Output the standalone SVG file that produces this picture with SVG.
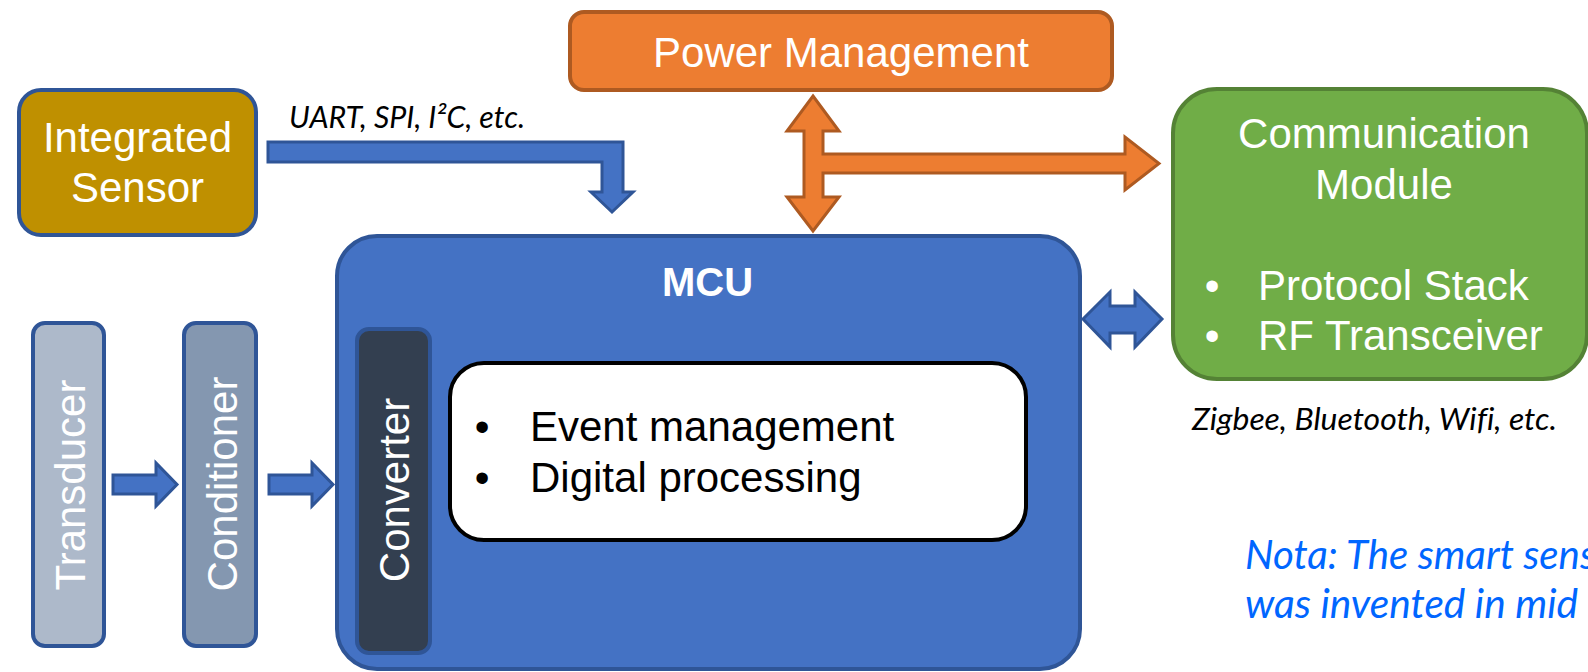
<svg xmlns="http://www.w3.org/2000/svg" width="1588" height="672" viewBox="0 0 1588 672">
<style>
.lbl{font-family:"Liberation Sans",Arial,sans-serif;font-size:42px;fill:#ffffff}
.dark{fill:#000000}
.box{stroke-width:4}
.blueArrow{fill:#4472C4;stroke:#2F5597;stroke-width:3;stroke-linejoin:miter}
.orangeArrow{fill:#ED7D31;stroke:#AE5A21;stroke-width:3;stroke-linejoin:miter}
.note{font-family:Lato,"Open Sans",sans-serif;font-style:italic;fill:#000000;font-variant-ligatures:none}
</style>
<rect width="1588" height="672" fill="#ffffff"/>

<g id="connectors">
  <polygon class="blueArrow" points="268,142 623,142 623,192 633,192 612,212 591,192 602,192 602,162 268,162"/>
  <polygon class="orangeArrow" points="813,96 839,131 823,131 823,154 1125,154 1125,137 1159,163.5 1125,190 1125,173 823,173 823,197 839,197 813,231 787,197 804,197 804,131 787,131"/>
  <polygon class="blueArrow" points="1083,319 1110,292 1110,306 1135,306 1135,292 1162,319 1135,347 1135,333 1110,333 1110,347"/>
  <polygon class="blueArrow" points="113,475 156,475 156,463 177,484.5 156,506 156,494 113,494"/>
  <polygon class="blueArrow" points="269,475 312,475 312,463 333,484.5 312,506 312,494 269,494"/>
</g>

<g id="integrated-sensor">
  <rect class="box" x="19" y="90" width="237" height="145" rx="22" fill="#BF9000" stroke="#2F5597"/>
  <text class="lbl" x="137.5" y="152" text-anchor="middle">Integrated</text>
  <text class="lbl" x="137.5" y="202" text-anchor="middle">Sensor</text>
</g>

<g id="power-management">
  <rect class="box" x="570" y="12" width="542" height="78" rx="14" fill="#ED7D31" stroke="#AE5A21"/>
  <text class="lbl" x="841" y="67" text-anchor="middle">Power Management</text>
</g>

<g id="communication-module">
  <rect class="box" x="1173" y="89" width="414" height="290" rx="44" fill="#70AD47" stroke="#548235"/>
  <text class="lbl" x="1384" y="148" text-anchor="middle">Communication</text>
  <text class="lbl" x="1384" y="199" text-anchor="middle">Module</text>
  <text class="lbl" x="1212" y="300" text-anchor="middle">•</text>
  <text class="lbl" x="1258" y="300">Protocol Stack</text>
  <text class="lbl" x="1212" y="350" text-anchor="middle">•</text>
  <text class="lbl" x="1258" y="350">RF Transceiver</text>
</g>

<g id="transducer">
  <rect class="box" x="33" y="323" width="71" height="323" rx="12" fill="#ADB9CA" stroke="#2F5597"/>
  <text class="lbl" transform="translate(85,485) rotate(-90)" text-anchor="middle">Transducer</text>
</g>

<g id="conditioner">
  <rect class="box" x="184" y="323" width="72" height="323" rx="12" fill="#8497B0" stroke="#2F5597"/>
  <text class="lbl" transform="translate(237,484) rotate(-90)" text-anchor="middle">Conditioner</text>
</g>

<g id="mcu">
  <rect class="box" x="337" y="236" width="743" height="433" rx="40" fill="#4472C4" stroke="#2F5597"/>
  <text class="lbl" x="707.5" y="296" text-anchor="middle" font-weight="bold" style="font-size:40px">MCU</text>
</g>

<g id="converter">
  <rect class="box" x="357" y="329" width="73" height="324" rx="12" fill="#333F50" stroke="#2F5597"/>
  <text class="lbl" transform="translate(409,490) rotate(-90)" text-anchor="middle">Converter</text>
</g>

<g id="processing">
  <rect class="box" x="450" y="363" width="576" height="177" rx="34" fill="#ffffff" stroke="#000000"/>
  <text class="lbl dark" x="482" y="441" text-anchor="middle">•</text>
  <text class="lbl dark" x="530" y="441">Event management</text>
  <text class="lbl dark" x="482" y="492" text-anchor="middle">•</text>
  <text class="lbl dark" x="530" y="492">Digital processing</text>
</g>

<g id="labels">
  <text class="note" x="289" y="128" font-size="31" textLength="236" lengthAdjust="spacingAndGlyphs">UART, SPI, I²C, etc.</text>
  <text class="note" x="1192" y="430" font-size="31" textLength="365" lengthAdjust="spacingAndGlyphs">Zigbee, Bluetooth, Wifi, etc.</text>
  <text class="note" x="1245" y="569" font-size="40" style="fill:#0066FF" textLength="351" lengthAdjust="spacingAndGlyphs">Nota: The smart sens</text>
  <text class="note" x="1245" y="618" font-size="40" style="fill:#0066FF" textLength="333" lengthAdjust="spacingAndGlyphs">was invented in mid</text>
</g>
</svg>
